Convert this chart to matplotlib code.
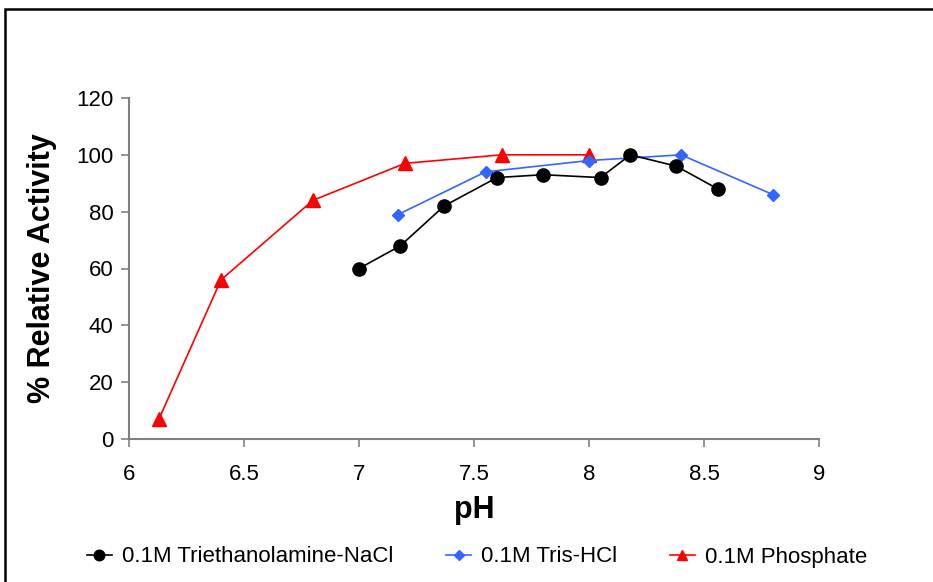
import matplotlib
matplotlib.use("Agg")
import matplotlib.pyplot as plt
from matplotlib.patches import Rectangle

plt.rcParams['font.family'] = ['Liberation Sans', 'DejaVu Sans']

tea_x = [7.0, 7.18, 7.37, 7.6, 7.8, 8.05, 8.18, 8.38, 8.56]
tea_y = [60, 68, 82, 92, 93, 92, 100, 96, 88]
tris_x = [7.17, 7.55, 8.0, 8.4, 8.8]
tris_y = [79, 94, 98, 100, 86]
phos_x = [6.13, 6.4, 6.8, 7.2, 7.62, 8.0]
phos_y = [7, 56, 84, 97, 100, 100]

labels = ["0.1M Triethanolamine-NaCl", "0.1M Tris-HCl", "0.1M Phosphate"]
xticks = [6, 6.5, 7, 7.5, 8, 8.5, 9]
yticks = [0, 20, 40, 60, 80, 100, 120]

fig = plt.figure(figsize=(9.33, 5.82), dpi=100)
ax = fig.add_axes([129/933, 1-439/582, (819-129)/933, (439-98)/582])

ax.plot(tea_x, tea_y, color='black', lw=1.2, marker='o', ms=9.5, label=labels[0], zorder=3)
ax.plot(tris_x, tris_y, color='#3366FF', lw=1.2, marker='D', ms=6.5, label=labels[1], zorder=2)
ax.plot(phos_x, phos_y, color='#FF0000', lw=1.2, marker='^', ms=9.5, label=labels[2], zorder=1)

ax.set_xlim(6, 9)
ax.set_ylim(0, 120)
ax.set_xticks(xticks)
ax.set_xticklabels([f"{t:g}" for t in xticks])
ax.set_yticks(yticks)
for s in ['top', 'right']:
    ax.spines[s].set_visible(False)
for s in ['left', 'bottom']:
    ax.spines[s].set_color('#808080')
    ax.spines[s].set_linewidth(1.5)
ax.tick_params(axis='both', labelsize=16, direction='out', length=6, color='#808080', width=1.2)
ax.tick_params(axis='x', pad=12)
ax.tick_params(axis='y', pad=5)

ax.set_xlabel('pH', fontsize=22, fontweight='bold', labelpad=7)
ax.set_ylabel('% Relative Activity', fontsize=22, fontweight='bold', labelpad=14)

leg = fig.legend(loc='center', bbox_to_anchor=(477/933, 1-557/582), ncol=3, frameon=False,
                 fontsize=16, handlelength=1.1, columnspacing=2.4, handletextpad=0.45,
                 markerscale=0.8)

fig.patches.append(Rectangle((5/933, -0.1), 1.1, 1 - 9/582 + 0.1, transform=fig.transFigure,
                             fill=False, edgecolor='black', linewidth=1.8))

fig.savefig('out.png', dpi=100)
